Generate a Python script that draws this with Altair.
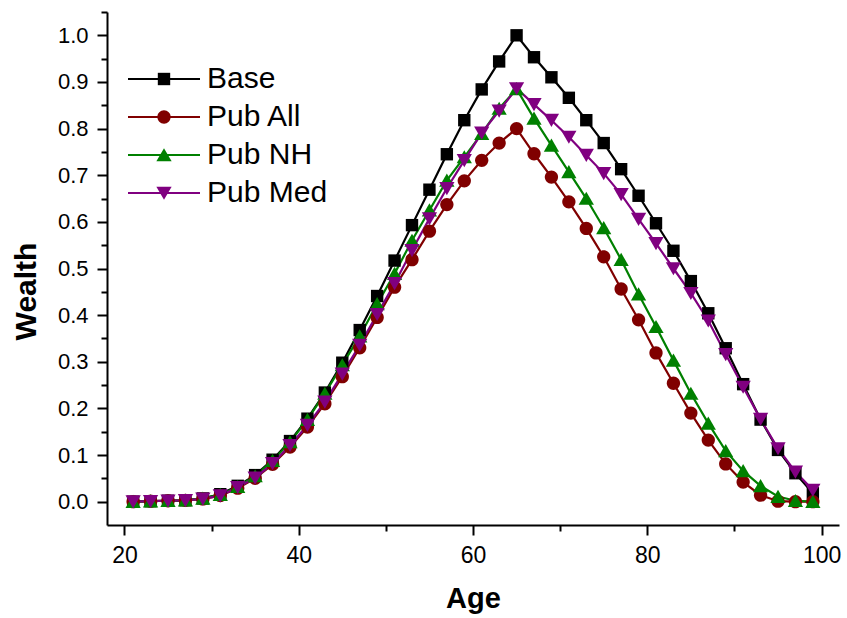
import altair as alt
import pandas as pd

ages = [21, 23, 25, 27, 29, 31, 33, 35, 37, 39, 41, 43, 45, 47, 49, 51, 53, 55, 57, 59,
        61, 63, 65, 67, 69, 71, 73, 75, 77, 79, 81, 83, 85, 87, 89, 91, 93, 95, 97, 99]

series_names = ["Base", "Pub All", "Pub NH", "Pub Med"]

base = [0.0, 0.001, 0.002, 0.003, 0.007, 0.016, 0.034, 0.057, 0.090, 0.130,
        0.178, 0.234, 0.298, 0.368, 0.441, 0.517, 0.593, 0.669, 0.745, 0.818,
        0.884, 0.944, 1.000, 0.953, 0.910, 0.866, 0.818, 0.769, 0.713, 0.656,
        0.597, 0.538, 0.473, 0.404, 0.329, 0.252, 0.176, 0.111, 0.061, 0.018]

pub_all = [0.0, 0.001, 0.002, 0.003, 0.006, 0.013, 0.029, 0.050, 0.080, 0.117,
           0.160, 0.210, 0.268, 0.330, 0.395, 0.460, 0.519, 0.580, 0.637, 0.688,
           0.732, 0.769, 0.800, 0.746, 0.696, 0.643, 0.586, 0.525, 0.456, 0.390,
           0.319, 0.254, 0.190, 0.132, 0.081, 0.042, 0.014, 0.001, 0.0, 0.0]

pub_nh = [0.0, 0.001, 0.002, 0.003, 0.007, 0.015, 0.032, 0.055, 0.088, 0.128,
          0.176, 0.232, 0.293, 0.355, 0.424, 0.489, 0.560, 0.625, 0.689, 0.739,
          0.789, 0.843, 0.885, 0.822, 0.764, 0.707, 0.650, 0.587, 0.519, 0.445,
          0.375, 0.303, 0.232, 0.168, 0.109, 0.066, 0.034, 0.011, 0.002, 0.0]

pub_med = [0.0, 0.001, 0.002, 0.003, 0.006, 0.013, 0.031, 0.051, 0.082, 0.121,
           0.164, 0.214, 0.274, 0.336, 0.402, 0.468, 0.539, 0.607, 0.672, 0.732,
           0.791, 0.838, 0.886, 0.852, 0.818, 0.782, 0.743, 0.704, 0.659, 0.606,
           0.554, 0.500, 0.447, 0.388, 0.316, 0.246, 0.177, 0.114, 0.064, 0.025]

x_major = [20, 40, 60, 80, 100]
x_minor = [30, 50, 70, 90]
y_major = [0.0, 0.1, 0.2, 0.3, 0.4, 0.5, 0.6, 0.7, 0.8, 0.9, 1.0]
y_minor = [0.05, 0.15, 0.25, 0.35, 0.45, 0.55, 0.65, 0.75, 0.85, 0.95, 1.05]

colors = ["#000000", "#800000", "#008000", "#800080"]
# marker outlines (square, circle, triangle up, triangle down) in symbol units
shapes = [
    "M-0.95,-0.95H0.95V0.95H-0.95Z",
    "M-1.02,0A1.02,1.02 0 1,1 1.02,0A1.02,1.02 0 1,1 -1.02,0Z",
    "M0,-1.05L1.17,0.97H-1.17Z",
    "M0,1.05L1.17,-0.97H-1.17Z",
]
MARKER_SIZE = 170

rows = []
for name, vals in zip(series_names, [base, pub_all, pub_nh, pub_med]):
    for a, v in zip(ages, vals):
        rows.append({"age": a, "wealth": v, "series": name})
df = pd.DataFrame(rows)

FONT = "Liberation Sans"

color_scale = alt.Scale(domain=series_names, range=colors)
shape_scale = alt.Scale(domain=series_names, range=shapes)
x_scale = alt.Scale(domain=[18, 102], nice=False, zero=False)
y_scale = alt.Scale(domain=[-0.05, 1.05], nice=False, zero=False)

# legend showing the line segments and the labels
line_legend = alt.Legend(
    title=None, orient="none", legendX=42, legendY=52,
    labelFont=FONT, labelFontSize=30, labelColor="black", labelOffset=28,
    rowPadding=8, padding=0, symbolSize=576, symbolStrokeWidth=2.2,
    symbolType="M-3,0H3", zindex=1,
)
# legend showing the markers, drawn on top of the line legend
marker_legend = alt.Legend(
    title=None, orient="none", legendX=42, legendY=52,
    labelFont=FONT, labelFontSize=30, labelOpacity=0, labelOffset=28,
    rowPadding=8, padding=0, symbolStrokeWidth=0, symbolOpacity=1,
    symbolSize=MARKER_SIZE, zindex=2,
)

x_axis_major = alt.Axis(
    values=x_major, tickSize=10, tickWidth=2, tickColor="black",
    domainWidth=2, domainColor="black", grid=False,
    labelFont=FONT, labelFontSize=23, labelColor="black", labelPadding=9,
    labelFlush=False, labelOverlap=False,
    title="Age", titleFont=FONT, titleFontSize=29, titleFontWeight="bold",
    titleColor="black", titleBaseline="alphabetic", titleY=82, orient="bottom",
)
y_axis_major = alt.Axis(
    values=y_major, format=".1f", tickSize=10, tickWidth=2, tickColor="black",
    domainWidth=2, domainColor="black", grid=False,
    labelFont=FONT, labelFontSize=22, labelColor="black", labelPadding=9,
    labelFlush=False, labelOverlap=False,
    title="Wealth", titleFont=FONT, titleFontSize=30, titleFontWeight="bold",
    titleColor="black", titleBaseline="alphabetic", titleX=-72, titleY=279,
    titleAngle=270, orient="left",
)
x_axis_minor = alt.Axis(
    values=x_minor, tickSize=6, tickWidth=2, tickColor="black",
    domain=False, labels=False, grid=False, title=None, orient="bottom",
)
y_axis_minor = alt.Axis(
    values=y_minor, tickSize=6, tickWidth=2, tickColor="black",
    domain=False, labels=False, grid=False, title=None, orient="left",
)

lines = alt.Chart(df).mark_line(strokeWidth=2.2).encode(
    x=alt.X("age:Q", scale=x_scale, axis=x_axis_major),
    y=alt.Y("wealth:Q", scale=y_scale, axis=y_axis_major),
    color=alt.Color("series:N", scale=color_scale, legend=line_legend),
)

points = alt.Chart(df).mark_point(filled=True, opacity=1, size=MARKER_SIZE).encode(
    x=alt.X("age:Q", scale=x_scale, axis=x_axis_minor),
    y=alt.Y("wealth:Q", scale=y_scale, axis=y_axis_minor),
    color=alt.Color("series:N", scale=color_scale, legend=marker_legend),
    shape=alt.Shape("series:N", scale=shape_scale, legend=marker_legend),
)

chart = (
    alt.layer(lines, points)
    .resolve_axis(x="independent", y="independent")
    .resolve_legend(color="independent", shape="independent")
    .properties(
        width=732, height=513,
        autosize=alt.AutoSizeParams(type="none"),
        padding={"left": 107, "top": 12, "right": 8, "bottom": 93},
        background="white",
    )
    .configure_view(stroke=None)
)

chart.save("out.html", embed_options={"renderer": "svg", "actions": False})
